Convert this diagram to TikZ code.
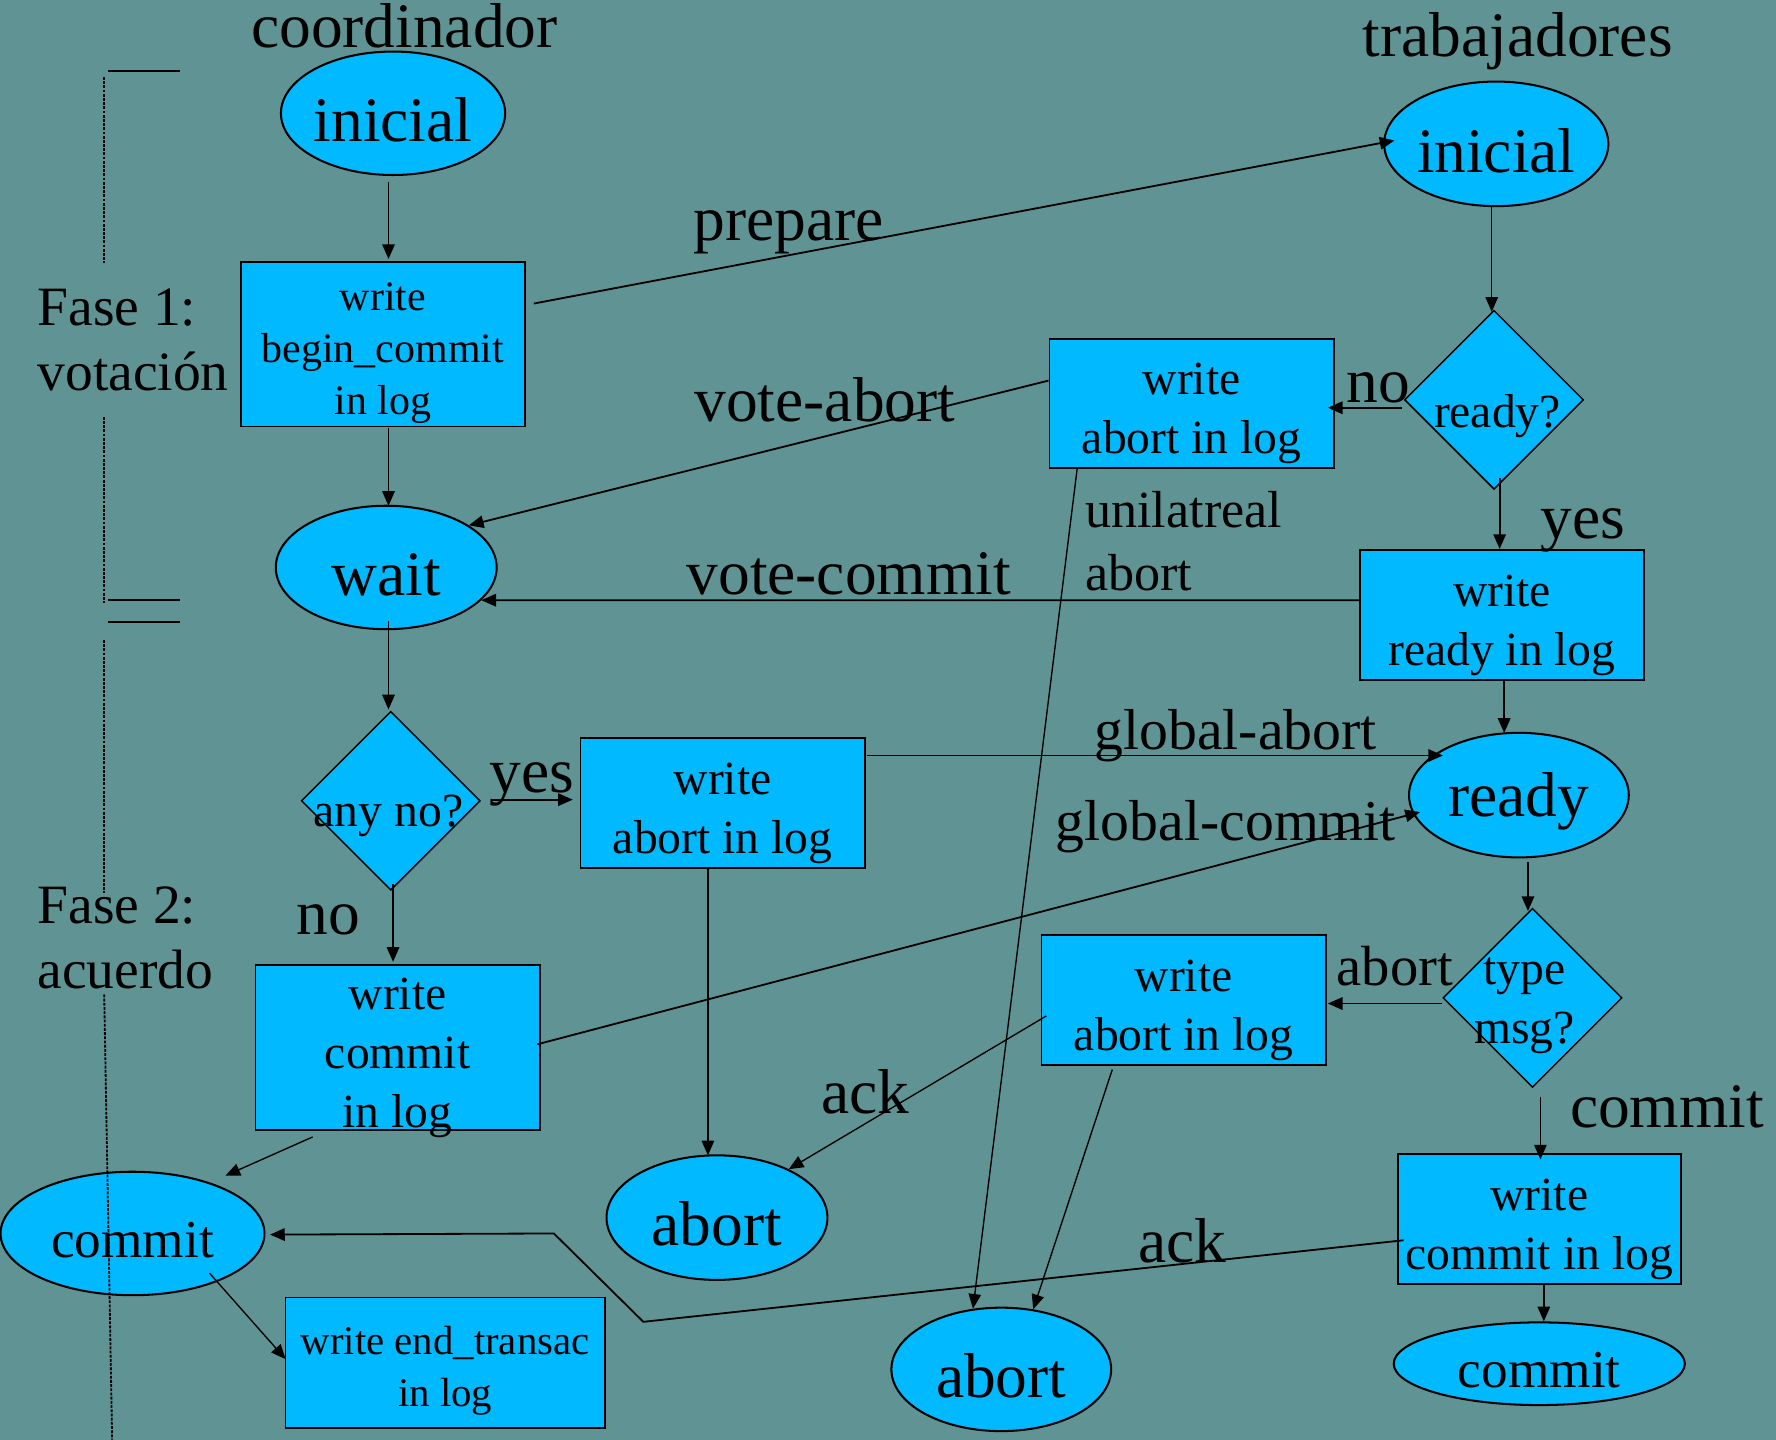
\documentclass[tikz,border=0pt]{standalone}
\usepackage{fontspec}
\setmainfont{Liberation Serif}
\usetikzlibrary{shapes.geometric,arrows.meta}
\definecolor{bgteal}{RGB}{96,148,148}
\definecolor{cyanfill}{RGB}{0,185,255}
% font sizes (size / baselineskip)
\newcommand\szL{\fontsize{56}{62}\selectfont}
\newcommand\szM{\fontsize{51}{56}\selectfont}
\newcommand\szN{\fontsize{49}{58}\selectfont}
\newcommand\szS{\fontsize{46}{56}\selectfont}
\newcommand\szC{\fontsize{47}{52}\selectfont}
\newcommand\szT{\fontsize{42}{52}\selectfont}
\newcommand\szU{\fontsize{37}{46}\selectfont}
% tall invisible strut that pushes box text a little lower
\newcommand\boxlift{\rule{0pt}{1.1em}}
\begin{document}
\begin{tikzpicture}[x=1pt,y=-1pt,
  box/.style={rectangle,draw,fill=cyanfill,line width=1.6pt,inner sep=0pt,align=center,font=\szT},
  ell/.style={ellipse,draw,fill=cyanfill,line width=1.8pt,inner sep=0pt,font=\szL,
    execute at begin node={\rule{0pt}{0.9em}}},
  dia/.style={diamond,draw,fill=cyanfill,line width=1.3pt,inner sep=0pt,minimum width=158pt,minimum height=158pt},
  lbl/.style={inner sep=0pt,anchor=base west,font=\szL},
  arr/.style={line width=1.6pt,-{Triangle[length=13pt,width=11pt]}},
  thinarr/.style={arr,line width=1.2pt},
  phase/.style={line width=1.6pt,dash pattern=on 2.5pt off 1.2pt},
  rule/.style={line width=1.6pt}
]
\fill[bgteal] (0,0) rectangle (1568,1271);
\useasboundingbox (0,0) rectangle (1568,1271);

% ---------- coordinator side ----------
\node[ell,minimum width=195pt,minimum height=109pt] (ci) at (347,100) {inicial};
\node[box,minimum width=251pt,minimum height=145pt,font=\szU] (bc) at (338,304) {\boxlift write\\begin\_commit\\in log};
\node[ell,minimum width=195pt,minimum height=109pt] (wt) at (341,501) {wait};
\node[dia] (an) at (345,707) {};
\node[inner sep=0pt,anchor=base,font=\szT] (ant) at (343,730) {any no?};
\node[box,minimum width=251pt,minimum height=115pt] (ca) at (638,709) {\boxlift write\\abort in log};
\node[box,minimum width=251pt,minimum height=146pt,inner ysep=-8pt] (cc) at (351,925) {\boxlift write\\commit\\in log};
\node[ell,minimum width=233pt,minimum height=109pt,font=\szC] (cce) at (117,1089) {commit};
\node[ell,minimum width=195pt,minimum height=110pt] (cae) at (633,1075) {abort};
\node[box,minimum width=282pt,minimum height=115pt,font=\fontsize{36}{46}\selectfont] (et) at (393,1203) {\boxlift write end\_transac\\in log};

% ---------- worker side ----------
\node[ell,minimum width=194pt,minimum height=110pt] (wi) at (1321,127) {inicial};
\node[dia] (rq) at (1319,353) {};
\node[inner sep=0pt,anchor=base,font=\szT] (rqt) at (1322,377) {ready?};
\node[box,minimum width=251pt,minimum height=114pt] (wa1) at (1052,356) {\boxlift write\\abort in log};
\node[box,minimum width=251pt,minimum height=115pt] (wr) at (1326,543) {\boxlift write\\ready in log};
\node[ell,minimum width=194pt,minimum height=110pt] (rd) at (1341,702) {ready};
\node[dia] (tm) at (1353,881) {};
\node[inner sep=0pt,align=center,font=\szT] (tmt) at (1346,888) {type\\msg?};
\node[box,minimum width=251pt,minimum height=115pt] (wa2) at (1045,883) {\boxlift write\\abort in log};
\node[box,minimum width=250pt,minimum height=115pt] (wc) at (1359,1076) {\boxlift write\\commit in log};
\node[ell,minimum width=194pt,minimum height=109pt] (wae) at (884,1209) {abort};
\node[ell,minimum width=257pt,minimum height=73pt,font=\szC] (wce) at (1359,1204) {commit};

% ---------- headings and labels ----------
\node[inner sep=0pt,anchor=base,font=\szL] (hco) at (357,42) {coordinador};
\node[inner sep=0pt,anchor=base,font=\szL] (htr) at (1340,50) {trabajadores};
\node[inner sep=0pt,anchor=west,align=left,font=\szN] (f1) at (33,300) {Fase 1:\\votación};
\node[inner sep=0pt,anchor=west,align=left,font=\szN] (f2) at (33,828) {Fase 2:\\acuerdo};
\node[lbl] (lprep) at (612,212) {prepare};
\node[lbl] (lva) at (613,372) {vote-abort};
\node[lbl] (lno1) at (1189,355) {no};
\node[lbl] (lyes1) at (1360,475) {yes};
\node[inner sep=0pt,anchor=west,align=left,font=\szS] (luni) at (958,478) {unilatreal\\abort};
\node[lbl] (lvc) at (606,525) {vote-commit};
\node[lbl,font=\szM] (lga) at (966,662) {global-abort};
\node[lbl,font=\szM] (lgc) at (932,742) {global-commit};
\node[lbl] (lyes2) at (432,700) {yes};
\node[lbl] (lno2) at (262,825) {no};
\node[lbl,font=\fontsize{50}{56}\selectfont] (lab) at (1180,870) {abort};
\node[lbl] (lcm) at (1386,995) {commit};
\node[lbl] (lack1) at (725,983) {ack};
\node[lbl] (lack2) at (1005,1115) {ack};

% ---------- connectors: coordinator ----------
\draw[arr] ([shift={(-4,5)}]ci.south) -- ([shift={(5,-2)}]bc.north);
\draw[arr] ([shift={(5,1)}]bc.south) -- ([shift={(2,1)}]wt.north);
\draw[arr] ([shift={(2,-8)}]wt.south) -- ([shift={(-2,-1)}]an.north);
\draw[arr] ([shift={(9,-1)}]an.east) -- ([shift={(-6,-3)}]ca.west);
\draw[arr] ([shift={(2,-6)}]an.south) -- ([shift={(-4,-2)}]cc.north);
\draw[thinarr] ([xshift=-13pt]ca.south) -- ([shift={(-8,1)}]cae.north);
\draw[thinarr] ([shift={(-75,5)}]cc.south) -- ([shift={(82,-51)}]cce.center);
\draw[thinarr] ([shift={(68,35)}]cce.center) -- ([shift={(1,-3)}]et.west);

% ---------- connectors: messages ----------
\draw[arr] ([shift={(7,-36)}]bc.east) -- ([shift={(10,-3)}]wi.west);
\draw[arr] ([shift={(0,-20)}]wa1.west) -- (wt.27);
\draw[arr] ([shift={(0,-13)}]wr.west) -- (wt.-19.35);
\draw[arr] ([shift={(1,-42)}]ca.east) -- ([shift={(-67,-35)}]rd.center);
\draw[arr] ([shift={(-3,-3)}]cc.east) -- ([xshift=7pt]rd.189);
\coordinate (ackA) at (568,1167);
\coordinate (ackB) at (489,1089);
\draw[arr] ([shift={(6,19)}]wc.west) -- (ackA) -- (ackB) -- ([shift={(4,1)}]cce.east);
\draw[thinarr] ([shift={(5,14)}]wa2.west) -- (cae.34.5);

% ---------- connectors: worker ----------
\draw[thinarr] ([shift={(-4,0)}]wi.south) -- ([shift={(-2,2)}]rq.north);
\draw[arr] ([shift={(-2,7)}]rq.west) -- ([shift={(-6,4)}]wa1.east);
\draw[arr] ([shift={(5,-11)}]rq.south) -- ([xshift=-2pt]wr.north);
\draw[arr] ([xshift=2pt]wr.south) -- ([shift={(-13,1)}]rd.north);
\draw[thinarr] ([xshift=-101pt]wa1.south) -- (wae.115.7);
\draw[arr] ([shift={(8,3)}]rd.south) -- ([shift={(-4,3)}]tm.north);
\draw[arr] ([shift={(0,5)}]tm.west) -- ([shift={(1,3)}]wa2.east);
\draw[arr] ([shift={(7,8)}]tm.south) -- ([shift={(1,6)}]wc.north);
\draw[thinarr] ([shift={(-63,3)}]wa2.south) -- (wae.62);
\draw[arr] ([xshift=4pt]wc.south) -- ([shift={(4,0)}]wce.north);

% ---------- phase brackets ----------
\draw[rule] (95,62.5) -- (159,62.5);
\draw[rule] (95,530) -- (159,530);
\draw[rule] (95,549) -- (159,549);
\draw[phase] (92,68) -- (92,232);
\draw[phase] (92,368) -- (92,532);
\draw[phase] (92,565) -- (92,788);
\draw[phase] (92,878) -- (99,1271);
\end{tikzpicture}
\end{document}
